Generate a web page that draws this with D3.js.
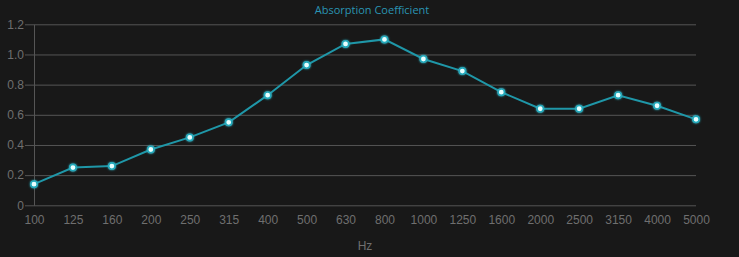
<!DOCTYPE html>
<html><head><meta charset="utf-8">
<script src="https://cdn.jsdelivr.net/npm/d3@7"></script>
<style>
html,body{margin:0;padding:0;background:#181818;}
svg{display:block;}
</style></head>
<body>
<script>
const categories = ["100","125","160","200","250","315","400","500","630","800","1000","1250","1600","2000","2500","3150","4000","5000"];
const values = [0.14,0.25,0.26,0.37,0.45,0.55,0.73,0.93,1.07,1.10,0.97,0.89,0.75,0.64,0.64,0.73,0.66,0.57];
const yTicks = [0,0.2,0.4,0.6,0.8,1.0,1.2];
const yTickLabels = ["0","0.2","0.4","0.6","0.8","1.0","1.2"];
const title = "Absorption Coefficient";
const xTitle = "Hz";

(function(){
const W = 739, H = 257;
const svg = d3.select("body").append("svg").attr("width", W).attr("height", H);
svg.append("rect").attr("width", W).attr("height", H).attr("fill", "#181818");

const pLeft = 34, pRight = 696, pTop = 24.3, pBottom = 205.3;
const x = d3.scalePoint().domain(categories).range([pLeft, pRight]);
const y = d3.scaleLinear().domain([0, 1.2]).range([pBottom, pTop]);

const defs = svg.append("defs");
const f = defs.append("filter").attr("id","glow").attr("x","-100%").attr("y","-100%").attr("width","300%").attr("height","300%");
f.append("feGaussianBlur").attr("stdDeviation", 1.2).attr("result","b");
const m = f.append("feMerge");
m.append("feMergeNode").attr("in","b");
m.append("feMergeNode").attr("in","SourceGraphic");

const yAxis = d3.axisLeft(y).tickValues(yTicks)
  .tickFormat((d,i) => yTickLabels[i])
  .tickSize(-(pRight - pLeft)).tickSizeOuter(0).tickPadding(10);
const gy = svg.append("g").attr("transform", `translate(${pLeft},0)`).call(yAxis);
gy.select(".domain").attr("stroke", "#555").attr("stroke-width", 1);
gy.selectAll(".tick line").attr("stroke", "#555").attr("stroke-width", 1).attr("x1", -9).attr("x2", pRight - pLeft);
gy.selectAll(".tick text").attr("fill", "#6f6f6f").style("font-family", "'Liberation Sans', Arial, sans-serif").style("font-size", "12px");

const xAxis = d3.axisBottom(x).tickSize(0).tickPadding(10);
const gx = svg.append("g").attr("transform", `translate(0,${pBottom})`).call(xAxis);
gx.select(".domain").remove();
gx.selectAll(".tick text").attr("fill", "#6f6f6f").style("font-family", "'Liberation Sans', Arial, sans-serif").style("font-size", "12px");

svg.append("text").attr("x", (pLeft + pRight) / 2).attr("y", 250)
  .attr("text-anchor", "middle").attr("fill", "#6f6f6f")
  .style("font-family", "'Liberation Sans', Arial, sans-serif").style("font-size", "12px")
  .text(xTitle);

svg.append("text").attr("x", 372).attr("y", 14)
  .attr("text-anchor", "middle").attr("fill", "#2a95b3")
  .style("font-family", "'Open Sans', 'DejaVu Sans', sans-serif").style("font-size", "11px")
  .text(title);

const line = d3.line().x((d,i) => x(categories[i])).y(d => y(d));
svg.append("path").datum(values).attr("d", line)
  .attr("fill", "none").attr("stroke", "#1f97a8").attr("stroke-width", 2);

svg.append("g").selectAll("circle").data(values).join("circle")
  .attr("cx", (d,i) => x(categories[i])).attr("cy", d => y(d))
  .attr("r", 3.2).attr("fill", "#e8ffff").attr("stroke", "#20a9bb").attr("stroke-width", 1.6)
  .attr("filter", "url(#glow)");
})();
</script>
</body></html>
